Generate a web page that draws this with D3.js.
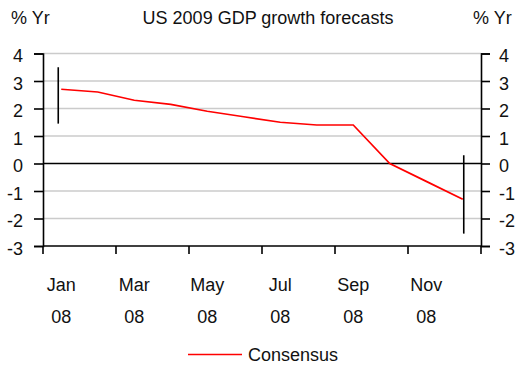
<!DOCTYPE html>
<html>
<head>
<meta charset="utf-8">
<script src="https://cdn.jsdelivr.net/npm/d3@7"></script>
<style>
  html, body { margin: 0; padding: 0; background: #fff; }
  svg { display: block; }
  text { font-family: "Liberation Sans", Arial, sans-serif; fill: #111; }
</style>
</head>
<body>
<svg id="chart" width="519" height="367"></svg>
<script>
// Monthly consensus forecasts for US 2009 GDP growth, made through 2008
const months = ["Jan", "Feb", "Mar", "Apr", "May", "Jun", "Jul", "Aug", "Sep", "Oct", "Nov", "Dec"];
const consensus = [2.7, 2.6, 2.3, 2.15, 1.9, 1.7, 1.5, 1.4, 1.4, 0.0, -0.65, -1.3];
// Range of individual forecasts (high / low) shown for first and last month
const rangeMonths = ["Jan", "Dec"];
const rangeHigh = [3.5, 0.3];
const rangeLow = [1.45, -2.55];
const yTicks = [4, 3, 2, 1, 0, -1, -2, -3];
const xLabelMonths = ["Jan", "Mar", "May", "Jul", "Sep", "Nov"];
const xLabelYear = "08";

const svg = d3.select("#chart");
const plotLeft = 43, plotRight = 481, plotTop = 53.5, plotBottom = 246;

const x = d3.scaleBand().domain(months).range([plotLeft, plotRight]).padding(0);
const xc = m => x(m) + x.bandwidth() / 2;
const y = d3.scaleLinear().domain([-3, 4]).range([plotBottom, plotTop]);

// Horizontal gridlines
svg.append("g").selectAll("line")
  .data(yTicks.filter(d => d !== 0 && d !== -3))
  .join("line")
  .attr("x1", plotLeft).attr("x2", plotRight)
  .attr("y1", d => y(d)).attr("y2", d => y(d))
  .attr("stroke", "#cbcbcb").attr("stroke-width", 1.6);

// Zero line
svg.append("line")
  .attr("x1", plotLeft).attr("x2", plotRight)
  .attr("y1", y(0)).attr("y2", y(0))
  .attr("stroke", "#000").attr("stroke-width", 1.5);

// Left and right value axes (plain hyphen for negatives)
const fmt = d => String(d);
const yAxisL = d3.axisLeft(y).tickValues(yTicks).tickSize(9).tickPadding(11).tickFormat(fmt);
const gL = svg.append("g").attr("transform", `translate(${plotLeft},0)`).call(yAxisL);
const yAxisR = d3.axisRight(y).tickValues(yTicks).tickSize(9).tickPadding(9).tickFormat(fmt);
const gR = svg.append("g").attr("transform", `translate(${plotRight},0)`).call(yAxisR);

[gL, gR].forEach(g => {
  g.select(".domain").attr("stroke", "#000").attr("stroke-width", 1.6);
  g.selectAll(".tick line").attr("stroke", "#000").attr("stroke-width", 1.6);
  g.selectAll(".tick text")
    .attr("font-size", 18)
    .attr("font-family", "Liberation Sans, Arial, sans-serif")
    .attr("fill", "#111")
    .attr("dy", "0.45em");
});

// Bottom axis: ticks every two months
const tickPositions = months.filter((m, i) => i % 2 === 0).map(m => x(m)).concat([plotRight]);
const gB = svg.append("g");
gB.append("line")
  .attr("x1", plotLeft).attr("x2", plotRight)
  .attr("y1", plotBottom).attr("y2", plotBottom)
  .attr("stroke", "#000").attr("stroke-width", 1.6);
gB.selectAll("line.tk").data(tickPositions).join("line")
  .attr("class", "tk")
  .attr("x1", d => d).attr("x2", d => d)
  .attr("y1", plotBottom).attr("y2", plotBottom + 8)
  .attr("stroke", "#000").attr("stroke-width", 1.6);

const lbl = gB.selectAll("g.lbl").data(xLabelMonths).join("g").attr("class", "lbl");
lbl.append("text")
  .attr("x", d => xc(d)).attr("y", 291)
  .attr("text-anchor", "middle").attr("font-size", 18)
  .text(d => d);
lbl.append("text")
  .attr("x", d => xc(d)).attr("y", 323)
  .attr("text-anchor", "middle").attr("font-size", 18)
  .text(xLabelYear);

// Range bars
svg.append("g").selectAll("line")
  .data(rangeMonths.map((m, i) => ({ m, hi: rangeHigh[i], lo: rangeLow[i] })))
  .join("line")
  .attr("x1", d => xc(d.m) - (d.m === "Jan" ? 3 : -1))
  .attr("x2", d => xc(d.m) - (d.m === "Jan" ? 3 : -1))
  .attr("y1", d => y(d.hi)).attr("y2", d => y(d.lo))
  .attr("stroke", "#000").attr("stroke-width", 1.6);

// Consensus line
const line = d3.line().x((d, i) => xc(months[i])).y(d => y(d));
svg.append("path")
  .datum(consensus)
  .attr("d", line)
  .attr("fill", "none")
  .attr("stroke", "#ff0000")
  .attr("stroke-width", 1.7);

// Titles
svg.append("text").attr("x", 11).attr("y", 24).attr("font-size", 18).text("% Yr");
svg.append("text").attr("x", 268).attr("y", 24).attr("font-size", 18)
  .attr("text-anchor", "middle").text("US 2009 GDP growth forecasts");
svg.append("text").attr("x", 473).attr("y", 24).attr("font-size", 18).text("% Yr");

// Legend
const lg = svg.append("g");
lg.append("line").attr("x1", 188).attr("x2", 242).attr("y1", 354.5).attr("y2", 354.5)
  .attr("stroke", "#ff0000").attr("stroke-width", 1.7);
lg.append("text").attr("x", 248).attr("y", 360.5).attr("font-size", 18).text("Consensus");
</script>
</body>
</html>
